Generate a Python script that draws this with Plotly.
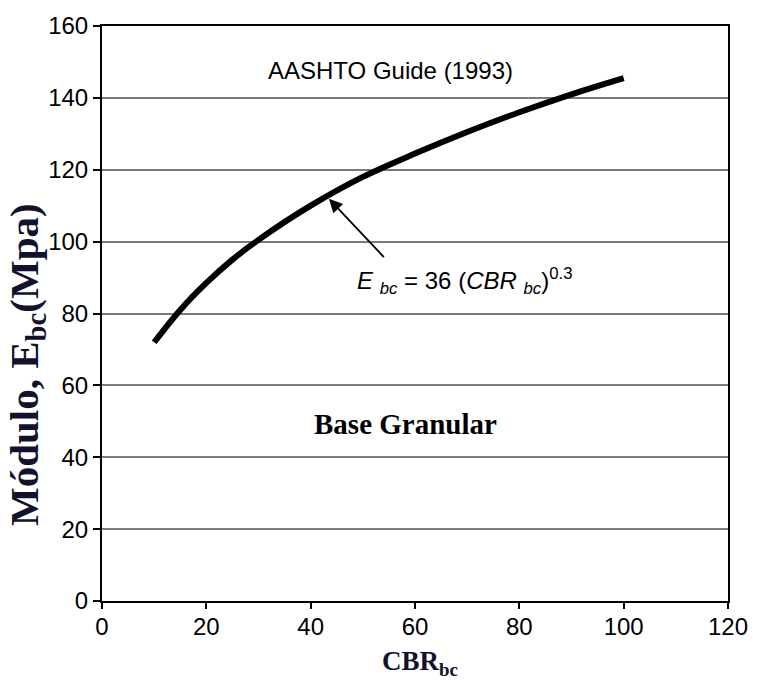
import plotly.graph_objects as go

# Data
cbr = [10, 15, 20, 25, 30, 40, 50, 60, 70, 80, 90, 100]
modulus = [72.0, 81.0, 88.5, 95.0, 100.5, 110.0, 118.0, 124.5, 130.5, 136.0, 141.0, 145.5]

x_ticks = [0, 20, 40, 60, 80, 100, 120]
y_ticks = [0, 20, 40, 60, 80, 100, 120, 140, 160]

SANS = "Liberation Sans, Arial, sans-serif"
SERIF = "Liberation Serif, Times New Roman, serif"
TITLE_COLOR = "#12122e"

fig = go.Figure()
fig.add_trace(go.Scatter(
    x=cbr, y=modulus, mode="lines",
    line=dict(color="black", width=6, shape="spline"),
    showlegend=False, hoverinfo="skip",
))

fig.update_layout(
    width=760, height=681,
    margin=dict(l=102, r=22, t=25, b=80),
    paper_bgcolor="white", plot_bgcolor="white",
    font=dict(family=SANS, size=23, color="black"),
    xaxis=dict(
        range=[0, 120], tickvals=x_ticks, ticktext=[str(v) for v in x_ticks],
        showgrid=False, zeroline=False,
        showline=True, linecolor="black", linewidth=2, mirror=True,
        ticks="outside", ticklen=6, tickwidth=1.5, tickcolor="black",
        ticklabelstandoff=-3,
        tickfont=dict(family=SANS, size=24, color="black"),
    ),
    yaxis=dict(
        range=[0, 160], tickvals=y_ticks, ticktext=[str(v) for v in y_ticks],
        showgrid=True, gridcolor="#7a7a7a", gridwidth=1.5,
        zeroline=False,
        showline=True, linecolor="black", linewidth=2, mirror=True,
        ticks="outside", ticklen=7, tickwidth=1.5, tickcolor="black",
        tickfont=dict(family=SANS, size=24, color="black"),
    ),
)

annotations = [
    dict(x=55.3, y=147.5, xref="x", yref="y", text="AASHTO Guide (1993)",
         showarrow=False, font=dict(family=SANS, size=24, color="black"),
         xanchor="center", yanchor="middle"),
    dict(x=43.5, y=111.9, xref="x", yref="y", ax=54.3, ay=95.3,
         axref="x", ayref="y", text="", showarrow=True,
         arrowhead=2, arrowsize=1.5, arrowwidth=1.8, arrowcolor="black"),
    dict(x=69.5, y=89.0, xref="x", yref="y",
         text="<i>E</i> <sub><i>bc</i></sub> = 36 (<i>CBR</i> <sub><i>bc</i></sub>)<sup>0.3</sup>",
         showarrow=False, font=dict(family=SANS, size=24, color="black"),
         xanchor="center", yanchor="middle"),
    dict(x=58.2, y=49.3, xref="x", yref="y", text="<b>Base Granular</b>",
         showarrow=False, font=dict(family=SERIF, size=29, color="black"),
         xanchor="center", yanchor="middle"),
    dict(x=-0.121, y=0.411, xref="paper", yref="paper",
         text="<b>Módulo, E<sub>bc</sub>(Mpa)</b>", textangle=-90,
         showarrow=False, font=dict(family=SERIF, size=41, color=TITLE_COLOR),
         xanchor="center", yanchor="middle"),
    dict(x=0.508, y=-0.108, xref="paper", yref="paper",
         text="<b>CBR<sub>bc</sub></b>",
         showarrow=False, font=dict(family=SERIF, size=27, color=TITLE_COLOR),
         xanchor="center", yanchor="middle"),
]
fig.update_layout(annotations=annotations)

fig.write_html("out.html")
